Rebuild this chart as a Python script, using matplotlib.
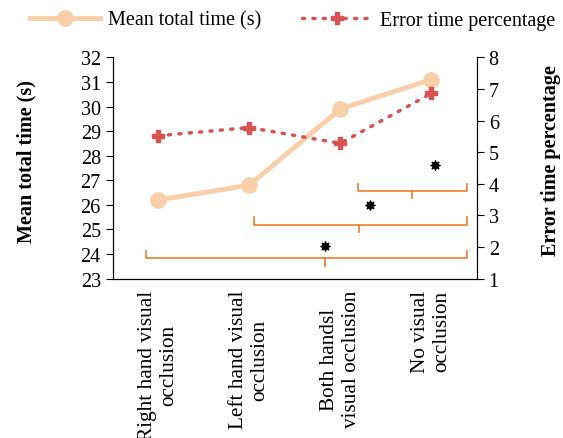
import matplotlib
matplotlib.use('Agg')
import matplotlib.pyplot as plt
import numpy as np

plt.rcParams['font.family'] = ['Liberation Serif', 'DejaVu Serif']
plt.rcParams['font.size'] = 14.5

# data
categories = ['Right hand visual\nocclusion', 'Left hand visual\nocclusion',
              'Both handsl\nvisual occlusion', 'No visual\nocclusion']
mean_time = [26.2, 26.8, 29.9, 31.1]
error_pct = [5.52, 5.78, 5.28, 6.86]

# significance brackets (left-axis units): start, end, level, tip
bracket_start = [-0.13, 1.05, 2.2]
bracket_end = [3.39, 3.39, 3.39]
bracket_y = [23.83, 25.2, 26.56]
bracket_mid = [1.83, 2.21, 2.79]
star_x = [1.83, 2.33, 3.04]
star_y = [24.34, 25.98, 27.64]

peach = '#F9CFA9'
red = '#DB5252'
orange = '#ED7D31'

fig = plt.figure(figsize=(5.63, 4.39), dpi=100)
ax = fig.add_axes([0.200, 0.363, 0.647, 0.504])
ax2 = ax.twinx()

x = np.arange(len(categories))
l1, = ax.plot(x, mean_time, color=peach, lw=3.5, marker='o', ms=11,
              label='Mean total time (s)', zorder=3)
l2, = ax2.plot(x, error_pct, color=red, lw=2.5, ls=(0, (0.6, 2.4)),
               dash_capstyle='round', marker='P', ms=9,
               label='Error time percentage', zorder=3)

for s, e, y, m in zip(bracket_start, bracket_end, bracket_y, bracket_mid):
    ax.plot([s, s, e, e], [y + 0.3, y, y, y + 0.3], color=orange, lw=1.2)
    ax.plot([m, m], [y, y - 0.3], color=orange, lw=1.2)
ax.scatter(star_x, star_y, marker=(8, 1, 0), s=45, color='black', zorder=4)

ax.set_xlim(-0.5, 3.5)
ax.set_ylim(23, 32)
ax.set_yticks(range(23, 33))
ax2.set_ylim(1, 8)
ax2.set_yticks(range(1, 9))

ax.set_xticks(x)
ax.set_xticklabels(categories, rotation=90, ha='center', va='top',
                   multialignment='center', fontsize=15.3)
ax.tick_params(axis='x', length=0, pad=8)
ax.tick_params(axis='y', length=5, direction='out')
ax2.tick_params(axis='y', length=5, direction='out')

for a in (ax, ax2):
    a.spines['top'].set_visible(False)
ax.set_ylabel('Mean total time (s)', fontweight='bold')
ax.yaxis.set_label_coords(-0.21, 0.535)
ax2.set_ylabel('Error time percentage', fontweight='bold', rotation=90)
ax2.yaxis.set_label_coords(1.175, 0.54)

fig.legend(handles=[l1, l2], loc='center', bbox_to_anchor=(0.52, 0.952),
           ncol=2, frameon=False, handlelength=3.5, columnspacing=2.0,
           handletextpad=0.4)

plt.savefig('out.png', dpi=100)
